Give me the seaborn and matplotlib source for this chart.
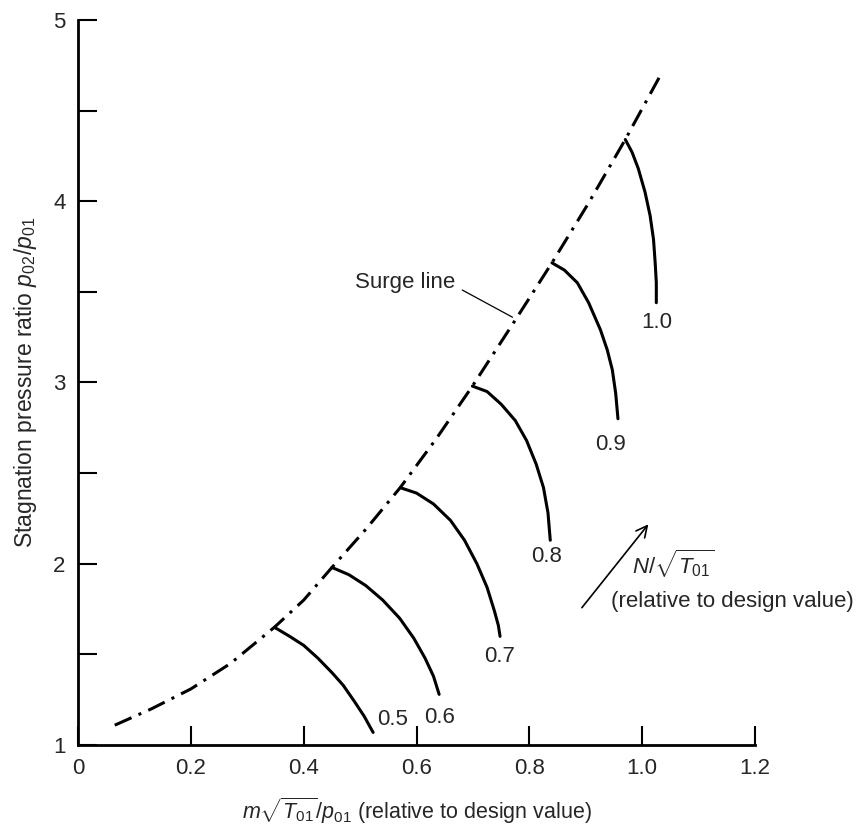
import numpy as np
import pandas as pd
import seaborn as sns
import matplotlib.pyplot as plt

# Surge line (mass flow, pressure ratio)
surge_x = [0.065, 0.13, 0.20, 0.27, 0.348, 0.40, 0.45, 0.51, 0.571, 0.635,
           0.699, 0.77, 0.840, 0.905, 0.970, 1.035]
surge_y = [1.11, 1.20, 1.31, 1.45, 1.65, 1.80, 1.98, 2.19, 2.42, 2.69,
           2.98, 3.32, 3.66, 3.99, 4.34, 4.71]

# Constant speed lines, from the surge line down to the end of each curve
speeds = ["0.5", "0.6", "0.7", "0.8", "0.9", "1.0"]
speed_x = [
    [0.348, 0.375, 0.40, 0.425, 0.45, 0.47, 0.49, 0.507, 0.523],
    [0.45, 0.48, 0.51, 0.54, 0.57, 0.595, 0.615, 0.630, 0.640],
    [0.571, 0.60, 0.63, 0.66, 0.685, 0.707, 0.725, 0.738, 0.745, 0.748],
    [0.699, 0.725, 0.75, 0.775, 0.795, 0.812, 0.825, 0.833, 0.837],
    [0.840, 0.862, 0.885, 0.905, 0.926, 0.938, 0.947, 0.953, 0.957],
    [0.970, 0.982, 0.993, 1.005, 1.014, 1.020, 1.023, 1.025, 1.025],
]
speed_y = [
    [1.65, 1.60, 1.55, 1.48, 1.40, 1.33, 1.24, 1.16, 1.07],
    [1.98, 1.94, 1.88, 1.80, 1.70, 1.59, 1.48, 1.38, 1.28],
    [2.42, 2.39, 2.33, 2.24, 2.13, 2.00, 1.87, 1.74, 1.66, 1.60],
    [2.98, 2.95, 2.88, 2.79, 2.68, 2.55, 2.42, 2.28, 2.13],
    [3.66, 3.62, 3.55, 3.44, 3.29, 3.18, 3.07, 2.94, 2.80],
    [4.34, 4.27, 4.18, 4.05, 3.92, 3.79, 3.66, 3.55, 3.44],
]
label_x = [0.557, 0.640, 0.748, 0.830, 0.944, 1.026]
label_y = [1.14, 1.15, 1.49, 2.04, 2.66, 3.33]

x_ticks = [0, 0.2, 0.4, 0.6, 0.8, 1.0, 1.2]
x_ticklabels = ["0", "0.2", "0.4", "0.6", "0.8", "1.0", "1.2"]
y_ticks = [1, 2, 3, 4, 5]
y_minor = [1.5, 2.5, 3.5, 4.5]

sns.set_theme(style="ticks")
plt.rcParams["font.family"] = ["Liberation Sans Narrow", "Liberation Sans", "DejaVu Sans"]
plt.rcParams["mathtext.fontset"] = "custom"
plt.rcParams["mathtext.rm"] = "Liberation Sans"
plt.rcParams["mathtext.it"] = "Liberation Sans:italic"

rows = []
for name, xs, ys in zip(speeds, speed_x, speed_y):
    for i, (a, b) in enumerate(zip(xs, ys)):
        rows.append({"speed": name, "order": i, "flow": a, "pr": b})
df_speed = pd.DataFrame(rows)
df_surge = pd.DataFrame({"flow": surge_x, "pr": surge_y})

fig = plt.figure(figsize=(8.58, 8.27), dpi=100)
ax = fig.add_axes([0.091, 0.099, 0.789, 0.877])

sns.lineplot(
    data=df_surge, x="flow", y="pr", sort=False, color="black",
    linewidth=2.2, linestyle=(0, (6, 2.5, 1, 2.5)), ax=ax,
)
sns.lineplot(
    data=df_speed, x="flow", y="pr", units="speed", estimator=None,
    sort=False, color="black", linewidth=2.2, ax=ax,
)

for name, lx, ly in zip(speeds, label_x, label_y):
    ax.text(lx, ly, name, fontsize=16, ha="center", va="center")

# Surge line label with leader
ax.text(0.58, 3.55, "Surge line", fontsize=16, ha="center", va="center")
ax.plot([0.681, 0.770], [3.51, 3.36], color="black", linewidth=0.9)

# Speed direction arrow
ax.annotate(
    "", xy=(1.014, 2.23), xytext=(0.890, 1.746),
    arrowprops=dict(arrowstyle="->", color="black", lw=1.2, mutation_scale=20),
    annotation_clip=False,
)
ax.text(1.055, 2.0, r"$N/\sqrt{T_{01}}$", fontsize=16, ha="center",
        va="center", clip_on=False)
ax.text(1.16, 1.79, "(relative to design value)", fontsize=16, ha="center",
        va="center", clip_on=False)

ax.set_xlim(0, 1.2)
ax.set_ylim(1, 5)
ax.set_xticks(x_ticks)
ax.set_xticklabels(x_ticklabels)
ax.set_yticks(y_ticks)
ax.set_yticks(y_minor, minor=True)
ax.tick_params(axis="both", which="both", direction="in", labelsize=16,
               width=1.5, color="black")
ax.tick_params(axis="both", which="major", length=14, pad=9)
ax.tick_params(axis="y", which="minor", length=14)
ax.tick_params(axis="x", which="minor", length=0)

sns.despine(ax=ax)
for side in ["left", "bottom"]:
    ax.spines[side].set_linewidth(2)
    ax.spines[side].set_color("black")

ax.set_xlabel(r"$m\sqrt{T_{01}}/p_{01}$ (relative to design value)", fontsize=15.5,
              labelpad=12)
ax.set_ylabel(r"Stagnation pressure ratio $p_{02}/p_{01}$", fontsize=16.5,
              labelpad=10)

fig.savefig("out.png", dpi=100, facecolor="white")
